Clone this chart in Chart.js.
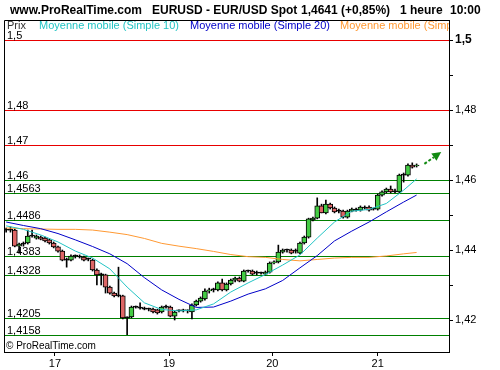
<!DOCTYPE html>
<html>
<head>
<meta charset="utf-8">
<script src="https://cdn.jsdelivr.net/npm/chart.js@4.4.0/dist/chart.umd.min.js"></script>
<style>
  html, body { margin: 0; padding: 0; background: #fff; }
  #wrap { width: 500px; height: 370px; }
</style>
</head>
<body>
<div id="wrap"><canvas id="chart" width="500" height="370"></canvas></div>
<script>
// hourly candles, EUR/USD
const openP = [
  1.4457, 1.4457, 1.4457, 1.4411, 1.4417, 1.4420, 1.4440, 1.4434, 1.4437, 1.4434,
  1.4429, 1.4420, 1.4409, 1.4397, 1.4371, 1.4371, 1.4383, 1.4380, 1.4380, 1.4374,
  1.4371, 1.4343, 1.4329, 1.4329, 1.4294, 1.4277, 1.4269, 1.4269, 1.4206, 1.4209,
  1.4237, 1.4234, 1.4231, 1.4231, 1.4231, 1.4229, 1.4223, 1.4237, 1.4237, 1.4211,
  1.4226, 1.4226, 1.4226, 1.4223, 1.4243, 1.4254, 1.4260, 1.4283, 1.4286, 1.4286,
  1.4306, 1.4286, 1.4303, 1.4314, 1.4320, 1.4311, 1.4340, 1.4340, 1.4334, 1.4334,
  1.4331, 1.4337, 1.4363, 1.4366, 1.4394, 1.4400, 1.4400, 1.4397, 1.4391, 1.4420,
  1.4437, 1.4486, 1.4491, 1.4526, 1.4506, 1.4531, 1.4520, 1.4511, 1.4511, 1.4494,
  1.4511, 1.4514, 1.4514, 1.4520, 1.4523, 1.4517, 1.4517, 1.4557, 1.4566, 1.4574,
  1.4566, 1.4566, 1.4614, 1.4614, 1.4643, 1.4640
];
const highP = [
  1.4463, 1.4466, 1.4460, 1.4420, 1.4423, 1.4457, 1.4457, 1.4443, 1.4440, 1.4437,
  1.4431, 1.4423, 1.4411, 1.4400, 1.4377, 1.4386, 1.4386, 1.4386, 1.4383, 1.4377,
  1.4374, 1.4346, 1.4334, 1.4331, 1.4297, 1.4280, 1.4351, 1.4271, 1.4209, 1.4240,
  1.4240, 1.4249, 1.4237, 1.4234, 1.4234, 1.4231, 1.4240, 1.4243, 1.4240, 1.4226,
  1.4229, 1.4231, 1.4229, 1.4246, 1.4257, 1.4266, 1.4289, 1.4291, 1.4291, 1.4309,
  1.4317, 1.4306, 1.4317, 1.4323, 1.4323, 1.4343, 1.4343, 1.4343, 1.4340, 1.4337,
  1.4340, 1.4366, 1.4369, 1.4414, 1.4403, 1.4403, 1.4403, 1.4403, 1.4423, 1.4440,
  1.4491, 1.4494, 1.4549, 1.4531, 1.4543, 1.4534, 1.4523, 1.4517, 1.4514, 1.4514,
  1.4520, 1.4520, 1.4526, 1.4526, 1.4526, 1.4520, 1.4560, 1.4569, 1.4577, 1.4583,
  1.4574, 1.4617, 1.4620, 1.4646, 1.4649, 1.4646
];
const lowP = [
  1.4451, 1.4451, 1.4409, 1.4391, 1.4411, 1.4417, 1.4437, 1.4431, 1.4429, 1.4423,
  1.4417, 1.4406, 1.4394, 1.4369, 1.4351, 1.4369, 1.4377, 1.4377, 1.4369, 1.4369,
  1.4340, 1.4300, 1.4300, 1.4277, 1.4274, 1.4266, 1.4266, 1.4203, 1.4158, 1.4206,
  1.4234, 1.4231, 1.4229, 1.4226, 1.4220, 1.4217, 1.4220, 1.4234, 1.4209, 1.4200,
  1.4223, 1.4223, 1.4220, 1.4203, 1.4240, 1.4251, 1.4257, 1.4277, 1.4280, 1.4283,
  1.4283, 1.4283, 1.4300, 1.4309, 1.4309, 1.4309, 1.4337, 1.4329, 1.4329, 1.4331,
  1.4329, 1.4334, 1.4360, 1.4363, 1.4391, 1.4394, 1.4389, 1.4391, 1.4389, 1.4417,
  1.4434, 1.4483, 1.4489, 1.4506, 1.4503, 1.4517, 1.4506, 1.4506, 1.4491, 1.4491,
  1.4509, 1.4511, 1.4511, 1.4517, 1.4511, 1.4514, 1.4514, 1.4554, 1.4563, 1.4563,
  1.4563, 1.4563, 1.4594, 1.4611, 1.4634, 1.4637
];
const closeP = [
  1.4457, 1.4457, 1.4411, 1.4417, 1.4417, 1.4440, 1.4440, 1.4440, 1.4431, 1.4426,
  1.4420, 1.4409, 1.4397, 1.4371, 1.4371, 1.4383, 1.4383, 1.4380, 1.4371, 1.4374,
  1.4343, 1.4329, 1.4329, 1.4294, 1.4277, 1.4269, 1.4269, 1.4206, 1.4206, 1.4237,
  1.4237, 1.4234, 1.4231, 1.4231, 1.4223, 1.4220, 1.4237, 1.4237, 1.4211, 1.4223,
  1.4226, 1.4226, 1.4226, 1.4243, 1.4254, 1.4263, 1.4283, 1.4286, 1.4286, 1.4306,
  1.4286, 1.4303, 1.4314, 1.4320, 1.4311, 1.4340, 1.4340, 1.4331, 1.4334, 1.4334,
  1.4337, 1.4363, 1.4366, 1.4394, 1.4400, 1.4400, 1.4391, 1.4397, 1.4420, 1.4437,
  1.4489, 1.4491, 1.4526, 1.4506, 1.4531, 1.4520, 1.4509, 1.4511, 1.4494, 1.4511,
  1.4517, 1.4514, 1.4523, 1.4520, 1.4514, 1.4517, 1.4557, 1.4566, 1.4574, 1.4566,
  1.4566, 1.4614, 1.4614, 1.4643, 1.4637, 1.4641
];

// moving averages, read every 4 candles
const maIdx = [0, 4, 8, 12, 16, 20, 24, 28, 32, 36, 40, 44, 48, 52, 56, 60, 64, 68, 72, 76, 80, 84, 88, 92, 95];
const sma10 = [1.4469, 1.4459, 1.4443, 1.4423, 1.4397, 1.4377, 1.4346, 1.4294, 1.4249, 1.4230, 1.4226, 1.4229, 1.4246,
  1.4280, 1.4306, 1.4330, 1.4357, 1.4386, 1.4434, 1.4480, 1.4511, 1.4516, 1.4533, 1.4571, 1.4603];
const sma20 = [1.4480, 1.4470, 1.4461, 1.4447, 1.4429, 1.4410, 1.4389, 1.4361, 1.4321, 1.4286, 1.4259, 1.4236, 1.4237,
  1.4254, 1.4274, 1.4289, 1.4313, 1.4349, 1.4384, 1.4426, 1.4454, 1.4480, 1.4509, 1.4537, 1.4557];
const smaLong = [1.4463, 1.4461, 1.4460, 1.4459, 1.4459, 1.4457, 1.4451, 1.4444, 1.4433, 1.4419, 1.4411, 1.4404, 1.4396,
  1.4387, 1.4381, 1.4379, 1.4373, 1.4369, 1.4373, 1.4377, 1.4379, 1.4379, 1.4383, 1.4389, 1.4393];

const dayTicks = [11.3, 37.7, 61.6, 86.0];
const dayLabels = ['17', '19', '20', '21'];

const priceTicks = [1.42, 1.43, 1.44, 1.45, 1.46, 1.47, 1.48, 1.49, 1.50];
const priceLabels = ['1,42', '', '1,44', '', '1,46', '', '1,48', '', '1,5'];

const levels = [1.5, 1.48, 1.47, 1.46, 1.4563, 1.4486, 1.4383, 1.4328, 1.4205, 1.4158];
const levelLabels = ['1,5', '1,48', '1,47', '1,46', '1,4563', '1,4486', '1,4383', '1,4328', '1,4205', '1,4158'];
const levelKind = ['r', 'r', 'r', 'g', 'g', 'g', 'g', 'g', 'g', 'g'];

const arrowStart = [96.8, 1.4646];
const arrowEnd = [100.7, 1.4680];

const UP = '#44cc44', DOWN = '#dd6666';
const FONT = "'Liberation Sans', Arial, sans-serif";

function candleColor(c) {
  const i = c.dataIndex;
  if (closeP[i] > openP[i]) return UP;
  if (closeP[i] < openP[i]) return DOWN;
  return '#000';
}

const decor = {
  id: 'decor',
  beforeDatasetsDraw(chart) {
    const { ctx, chartArea: a, scales: { y } } = chart;
    ctx.save();
    ctx.lineWidth = 1;
    ctx.font = '11px ' + FONT;
    ctx.textBaseline = 'alphabetic';
    levels.forEach((v, k) => {
      const py = Math.round(y.getPixelForValue(v)) + 0.5;
      ctx.strokeStyle = levelKind[k] === 'r' ? '#e80000' : '#008000';
      ctx.beginPath(); ctx.moveTo(a.left, py); ctx.lineTo(a.right, py); ctx.stroke();
      ctx.fillStyle = '#000';
      ctx.fillText(levelLabels[k], a.left + 3, py - 2);
    });
    ctx.restore();
  },
  afterDraw(chart) {
    const { ctx, chartArea: a, scales: { x, y } } = chart;
    ctx.save();
    // frame left / top
    ctx.strokeStyle = '#000'; ctx.lineWidth = 1;
    ctx.beginPath();
    ctx.moveTo(a.left + 0.5, a.bottom); ctx.lineTo(a.left + 0.5, a.top - 0.5); ctx.lineTo(a.right + 1, a.top - 0.5);
    ctx.stroke();

    // header
    ctx.fillStyle = '#000';
    ctx.font = 'bold 12px ' + FONT;
    [['www.ProRealTime.com', 10], ['EURUSD - EUR/USD Spot', 152], ['1,4641 (+0,85%)', 301],
     ['1 heure', 400], ['10:00', 450]].forEach(([t, px]) => ctx.fillText(t, px, 14));

    // legend row
    ctx.save();
    ctx.beginPath(); ctx.rect(a.left, a.top, a.right - a.left, a.bottom - a.top); ctx.clip();
    ctx.font = '11px ' + FONT;
    [['Prix', 7, '#333333'], ['Moyenne mobile (Simple 10)', 39, '#22c4c4'],
     ['Moyenne mobile (Simple 20)', 190, '#0000c8'], ['Moyenne mobile (Simple 100)', 340, '#ff9933']]
      .forEach(([t, px, c]) => { ctx.fillStyle = c; ctx.fillText(t, px, 29); });
    ctx.restore();

    // footer
    ctx.fillStyle = '#000';
    ctx.font = '10px ' + FONT;
    ctx.fillText('\u00a9 ProRealTime.com', a.left + 2, a.bottom - 3);

    // projection arrow
    const x0 = x.getPixelForValue(arrowStart[0]), y0 = y.getPixelForValue(arrowStart[1]);
    const x1 = x.getPixelForValue(arrowEnd[0]), y1 = y.getPixelForValue(arrowEnd[1]);
    const ang = Math.atan2(y1 - y0, x1 - x0);
    const hl = 9, hw = 4.5;
    const bx = x1 - hl * Math.cos(ang), by = y1 - hl * Math.sin(ang);
    ctx.strokeStyle = '#128a12'; ctx.fillStyle = '#128a12';
    ctx.lineWidth = 2; ctx.setLineDash([3, 2]);
    ctx.beginPath(); ctx.moveTo(x0, y0); ctx.lineTo(bx, by); ctx.stroke();
    ctx.setLineDash([]);
    ctx.beginPath();
    ctx.moveTo(x1, y1);
    ctx.lineTo(bx + hw * Math.sin(ang), by - hw * Math.cos(ang));
    ctx.lineTo(bx - hw * Math.sin(ang), by + hw * Math.cos(ang));
    ctx.closePath(); ctx.fill();
    ctx.restore();
  }
};

const maPoints = vals => maIdx.map((i, k) => ({ x: i, y: vals[k] }));

Chart.defaults.font.family = FONT;
Chart.defaults.color = '#000';

new Chart(document.getElementById('chart'), {
  type: 'bar',
  data: {
    datasets: [
      { type: 'line', label: 'SMA10', data: maPoints(sma10), borderColor: '#22c4c4', borderWidth: 1, pointRadius: 0, order: 0 },
      { type: 'line', label: 'SMA20', data: maPoints(sma20), borderColor: '#0000c8', borderWidth: 1, pointRadius: 0, order: 0 },
      { type: 'line', label: 'SMA100', data: maPoints(smaLong), borderColor: '#ff9933', borderWidth: 1, pointRadius: 0, order: 0 },
      {
        label: 'body', data: openP.map((o, i) => ({ x: i, y: [o, closeP[i]] })),
        backgroundColor: candleColor, borderColor: '#000', borderWidth: 1, borderSkipped: false,
        barThickness: 5, minBarLength: 1, grouped: false, order: 1
      },
      {
        label: 'wick', data: lowP.map((l, i) => ({ x: i, y: [l, highP[i]] })),
        backgroundColor: '#000', borderWidth: 0, barThickness: 1, grouped: false, order: 2
      }
    ]
  },
  options: {
    responsive: false,
    animation: false,
    events: [],
    layout: { padding: { top: 21, left: 4, right: 0, bottom: 0 } },
    plugins: { legend: { display: false }, tooltip: { enabled: false }, title: { display: false } },
    scales: {
      x: {
        type: 'linear', min: -0.5, max: 102.5, offset: false,
        afterBuildTicks: s => { s.ticks = dayTicks.map(v => ({ value: v })); },
        afterFit: s => { s.height = 18; },
        grid: { drawOnChartArea: false, drawTicks: true, tickLength: 4, color: '#000', offset: false },
        border: { display: true, color: '#000' },
        ticks: {
          autoSkip: false, maxRotation: 0, padding: 1, font: { size: 11 },
          callback: v => { const k = dayTicks.indexOf(v); return k >= 0 ? dayLabels[k] : ''; }
        }
      },
      y: {
        type: 'linear', position: 'right', min: 1.41086, max: 1.50543, beginAtZero: false,
        afterBuildTicks: s => { s.ticks = priceTicks.map(v => ({ value: v })); },
        afterFit: s => { s.width = 51; },
        grid: { drawOnChartArea: false, drawTicks: true, tickLength: 4, color: '#000' },
        border: { display: true, color: '#000' },
        ticks: {
          padding: 2,
          font: c => (c.tick && c.tick.value === 1.5) ? { size: 12, weight: 'bold' } : { size: 11 },
          callback: (v, i) => priceLabels[i]
        }
      }
    }
  },
  plugins: [decor]
});
</script>
</body>
</html>
